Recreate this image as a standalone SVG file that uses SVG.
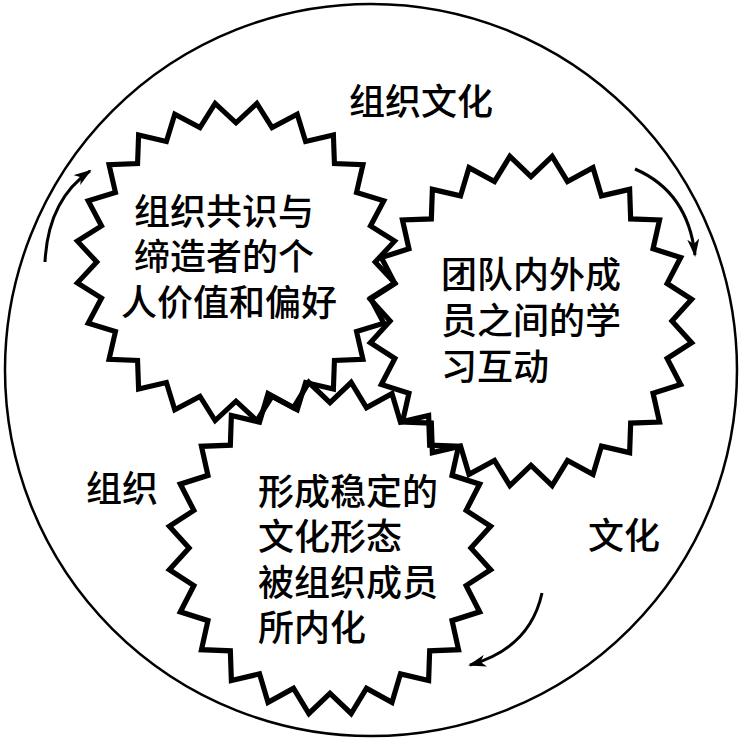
<svg xmlns="http://www.w3.org/2000/svg" xmlns:xlink="http://www.w3.org/1999/xlink" width="742" height="739" viewBox="0 0 742 739">
  <style>
    .bg { fill: #ffffff; }
    .outer { fill: none; stroke: #000; stroke-width: 2.5; }
    .star { fill: none; stroke: #000; stroke-width: 3.2; stroke-linejoin: miter; vector-effect: non-scaling-stroke; }
    .lbl { font-family: "Liberation Sans", "Noto Sans CJK SC", sans-serif; font-size: 36px; font-weight: 500; fill: #000; }
    .conn { fill: none; stroke: #000; stroke-width: 3; }
  </style>
  <defs>
    <polygon id="starShape" points="87,0 99.14,13.05 84.04,22.52 92.39,38.27 75.34,43.5 79.34,60.88 61.52,61.52 60.88,79.34 43.5,75.34 38.27,92.39 22.52,84.04 13.05,99.14 0,87 -13.05,99.14 -22.52,84.04 -38.27,92.39 -43.5,75.34 -60.88,79.34 -61.52,61.52 -79.34,60.88 -75.34,43.5 -92.39,38.27 -84.04,22.52 -99.14,13.05 -87,0 -99.14,-13.05 -84.04,-22.52 -92.39,-38.27 -75.34,-43.5 -79.34,-60.88 -61.52,-61.52 -60.88,-79.34 -43.5,-75.34 -38.27,-92.39 -22.52,-84.04 -13.05,-99.14 0,-87 13.05,-99.14 22.52,-84.04 38.27,-92.39 43.5,-75.34 60.88,-79.34 61.52,-61.52 79.34,-60.88 75.34,-43.5 92.39,-38.27 84.04,-22.52 99.14,-13.05"/>
    <marker id="arrow" viewBox="0 0 18 12" refX="16" refY="6" markerWidth="18" markerHeight="12" markerUnits="userSpaceOnUse" orient="auto">
      <path d="M0,0 L18,6 L0,12 L5,6 z" fill="#000"/>
    </marker>
  </defs>
  <rect class="bg" x="0" y="0" width="742" height="739"/>

  <g id="culture-circle">
    <circle class="outer" cx="371" cy="370" r="366"/>
    <text class="lbl" x="349" y="115">组织文化</text>
    <text class="lbl" x="86" y="502">组织</text>
    <text class="lbl" x="588" y="549">文化</text>
  </g>

  <g id="node-values">
    <use xlink:href="#starShape" href="#starShape" class="star" transform="translate(236,262) scale(1.6,1.6)"/>
    <text class="lbl" text-anchor="middle">
      <tspan x="229" y="225">组织共识与</tspan>
      <tspan x="229" y="270">缔造者的个</tspan>
      <tspan x="229" y="316">人价值和偏好</tspan>
    </text>
  </g>

  <g id="node-learning">
    <use xlink:href="#starShape" href="#starShape" class="star" transform="translate(531,321) scale(1.62,1.66)"/>
    <text class="lbl">
      <tspan x="441" y="288">团队内外成</tspan>
      <tspan x="441" y="334">员之间的学</tspan>
      <tspan x="441" y="380">习互动</tspan>
    </text>
  </g>

  <g id="node-internalize">
    <use xlink:href="#starShape" href="#starShape" class="star" transform="translate(330,548) scale(1.62,1.67)"/>
    <text class="lbl">
      <tspan x="258" y="505">形成稳定的</tspan>
      <tspan x="258" y="550">文化形态</tspan>
      <tspan x="258" y="596">被组织成员</tspan>
      <tspan x="258" y="641">所内化</tspan>
    </text>
  </g>

  <g id="connectors">
    <path class="conn" d="M45,262 Q48,200 90,171" marker-end="url(#arrow)"/>
    <path class="conn" d="M635,169 Q688,192 695,255" marker-end="url(#arrow)"/>
    <path class="conn" d="M542,593 Q530,648 470,665" marker-end="url(#arrow)"/>
  </g>
</svg>
